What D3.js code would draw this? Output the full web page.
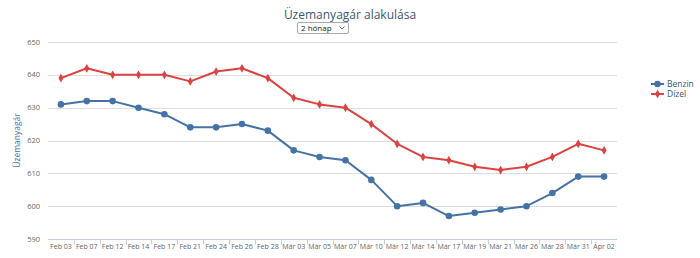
<!DOCTYPE html>
<html>
<head>
<meta charset="utf-8">
<script src="https://cdn.jsdelivr.net/npm/d3@7"></script>
<style>
  body { margin: 0; background: #fff; font-family: "Open Sans", Arial, sans-serif; }
  #chart { position: relative; width: 700px; height: 258px; }
  #range { position: absolute; left: 297px; top: 22px; width: 52px; height: 12px; box-sizing: border-box;
           font-size: 8px; font-family: "Open Sans", Arial, sans-serif; line-height: 10px; color: #222;
           padding: 0 0 0 3px; margin: 0; border: 1px solid #aaa; border-radius: 2px;
           -webkit-appearance: none; appearance: none;
           background: #fff url("data:image/svg+xml;utf8,<svg xmlns='http://www.w3.org/2000/svg' width='6' height='4'><polyline points='0.5,0.5 3,3 5.5,0.5' fill='none' stroke='%23555' stroke-width='0.9'/></svg>") no-repeat 41px 3px; }
</style>
</head>
<body>
<div id="chart">
  <select id="range"><option>2 hónap</option></select>
</div>
<script>
const categories = ["Feb 03","Feb 07","Feb 12","Feb 14","Feb 17","Feb 21","Feb 24","Feb 26","Feb 28",
  "Már 03","Már 05","Már 07","Már 10","Már 12","Már 14","Már 17","Már 19","Már 21","Már 26","Már 28","Már 31","Ápr 02"];
const benzin = [631,632,632,630,628,624,624,625,623,617,615,614,608,600,601,597,598,599,600,604,609,609];
const dizel  = [639,642,640,640,640,638,641,642,639,633,631,630,625,619,615,614,612,611,612,615,619,617];
const yTicks = [590,600,610,620,630,640,650];

const series = [
  { name: "Benzin", values: benzin, color: "#4572A7", symbol: d3.symbolCircle, size: 34 },
  { name: "Dízel", values: dizel, color: "#DB4340", symbol: d3.symbolDiamond, size: 22 }
];

const W = 700, H = 258;
const plot = { left: 48, right: 617, top: 42, bottom: 239 };

const svg = d3.select("#chart").insert("svg", ":first-child")
  .attr("width", W).attr("height", H)
  .style("position", "absolute").style("left", 0).style("top", 0);

const x = d3.scaleBand().domain(categories).range([plot.left, plot.right]);
const y = d3.scaleLinear().domain([590, 650]).range([plot.bottom, plot.top]);
const cx = d => x(d) + x.bandwidth() / 2;

svg.append("text")
  .attr("x", 350).attr("y", 19)
  .attr("text-anchor", "middle")
  .attr("fill", "#3E576F")
  .style("font-size", "12px")
  .text("Üzemanyagár alakulása");

// grid
svg.append("g").selectAll("line").data(yTicks.slice(1)).join("line")
  .attr("x1", plot.left).attr("x2", plot.right)
  .attr("y1", d => Math.round(y(d)) + 0.5).attr("y2", d => Math.round(y(d)) + 0.5)
  .attr("stroke", "#DDDDDD");

svg.append("g").selectAll("text").data(yTicks).join("text")
  .attr("x", 40).attr("y", d => y(d) + 2.5)
  .attr("text-anchor", "end")
  .attr("fill", "#666")
  .style("font-size", "7.5px")
  .text(d => d);

svg.append("text")
  .attr("transform", `translate(20,${(plot.top + plot.bottom) / 2}) rotate(-90)`)
  .attr("text-anchor", "middle")
  .attr("fill", "#4572A7")
  .style("font-size", "8.5px")
  .text("Üzemanyagár");

// x axis
const xAxis = svg.append("g").attr("transform", `translate(0,${Math.round(plot.bottom) + 0.5})`);
xAxis.append("line").attr("x1", plot.left).attr("x2", plot.right).attr("stroke", "#C0D0E0");
xAxis.selectAll("line.tick").data(categories.slice(1)).join("line").attr("class", "tick")
  .attr("x1", d => Math.round(x(d)) + 0.5).attr("x2", d => Math.round(x(d)) + 0.5)
  .attr("y1", 0).attr("y2", 5).attr("stroke", "#C0D0E0");
xAxis.selectAll("text").data(categories).join("text")
  .attr("x", cx).attr("y", 9.5)
  .attr("text-anchor", "middle")
  .attr("fill", "#666")
  .style("font-size", "7px")
  .text(d => d);

// lines
const line = d3.line().x((v, i) => cx(categories[i])).y(v => y(v));
series.forEach(s => {
  const g = svg.append("g");
  g.append("path").datum(s.values)
    .attr("d", line).attr("fill", "none")
    .attr("stroke", s.color).attr("stroke-width", 2).attr("stroke-linejoin", "round");
  g.selectAll("path.m").data(s.values).join("path").attr("class", "m")
    .attr("transform", (v, i) => `translate(${cx(categories[i])},${y(v)})`)
    .attr("d", d3.symbol(s.symbol, s.size))
    .attr("fill", s.color);
});

// legend
const legend = svg.append("g").attr("transform", "translate(651,84)");
series.forEach((s, i) => {
  const row = legend.append("g").attr("transform", `translate(0,${i * 10})`);
  row.append("line").attr("x1", 0).attr("x2", 13).attr("stroke", s.color).attr("stroke-width", 2);
  row.append("path").attr("transform", "translate(6.5,0)").attr("d", d3.symbol(s.symbol, s.size)).attr("fill", s.color);
  row.append("text").attr("x", 16).attr("y", 3)
    .attr("fill", "#3E576F").style("font-size", "8.5px").text(s.name);
});
</script>
</body>
</html>
